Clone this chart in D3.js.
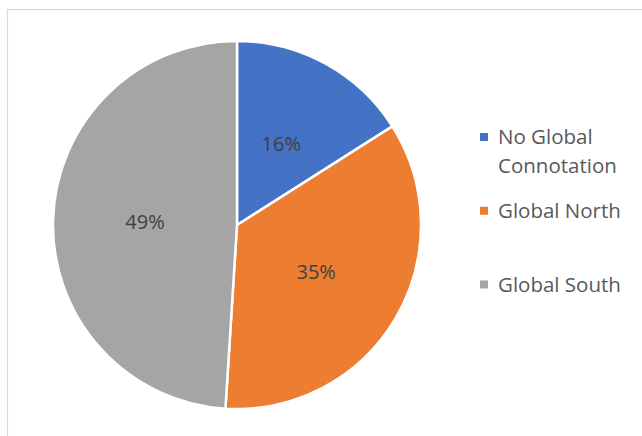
<!DOCTYPE html>
<html>
<head>
<meta charset="utf-8">
<script src="https://cdn.jsdelivr.net/npm/d3@7"></script>
<style>
  html, body { margin: 0; padding: 0; background: #fff; }
  svg { display: block; }
</style>
</head>
<body>
<script>
// Share of items by global connotation
const categories = ["No Global Connotation", "Global North", "Global South"];
const legendLines = [["No Global", "Connotation"], ["Global North"], ["Global South"]];
const values = [16, 35, 49];
const colors = ["#4472C4", "#ED7D31", "#A5A5A5"];

const width = 642, height = 436;
const cx = 237, cy = 225, radius = 184;

const svg = d3.select("body").append("svg")
  .attr("width", width)
  .attr("height", height);

// chart area frame
svg.append("rect")
  .attr("x", 7.5).attr("y", 9.5)
  .attr("width", 700).attr("height", 500)
  .attr("fill", "#fff")
  .attr("stroke", "#D9D9D9")
  .attr("stroke-width", 1.2);

const pie = d3.pie().sort(null).value(d => d);
const arcs = pie(values);
const arc = d3.arc().innerRadius(0).outerRadius(radius);

const g = svg.append("g").attr("transform", `translate(${cx},${cy})`);

g.selectAll("path.slice")
  .data(arcs)
  .join("path")
  .attr("class", "slice")
  .attr("d", arc)
  .attr("fill", (d, i) => colors[i])
  .attr("stroke", "#fff")
  .attr("stroke-width", 2.5)
  .attr("stroke-linejoin", "round");

g.selectAll("text.pct")
  .data(arcs)
  .join("text")
  .attr("class", "pct")
  .attr("transform", d => `translate(${arc.centroid(d)})`)
  .attr("text-anchor", "middle")
  .attr("dy", 7)
  .attr("font-family", "'Open Sans', sans-serif")
  .attr("font-size", 20)
  .attr("fill", "#404040")
  .text(d => d.data + "%");

// legend
const legendY = d3.scalePoint().domain(categories).range([137, 284.5]);
const legend = svg.append("g");
categories.forEach((c, i) => {
  const y = legendY(c);
  legend.append("rect")
    .attr("x", 480).attr("y", y - 4)
    .attr("width", 8).attr("height", 8)
    .attr("fill", colors[i]);
  const t = legend.append("text")
    .attr("x", 498).attr("y", y + 7)
    .attr("font-family", "'Open Sans', sans-serif")
    .attr("font-size", 20.5)
    .attr("fill", "#595959");
  legendLines[i].forEach((line, j) => {
    t.append("tspan").attr("x", 498).attr("dy", j === 0 ? 0 : 29).text(line);
  });
});
</script>
</body>
</html>
